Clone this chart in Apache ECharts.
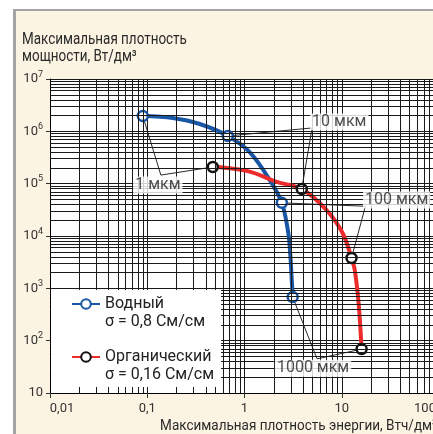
<!DOCTYPE html>
<html><head><meta charset="utf-8">
<script src="https://cdn.jsdelivr.net/npm/echarts@6/dist/echarts.min.js"></script>
<style>html,body{margin:0;padding:0;background:#fff}#c{width:433px;height:434px}</style>
</head><body><div id="c"></div>
<script>
const FONT = 'Roboto, "Liberation Sans", sans-serif';

// Curve traces: energy density (Втч/дм³) and power density (Вт/дм³)
const waterName = 'Водный';
const waterSub = 'σ = 0,8 См/см';
const waterCurveE = [0.183, 0.347, 1.13, 1.82, 2.79, 2.92];
const waterCurveP = [1.8e6, 1.38e6, 4.0e5, 1.17e5, 1.3e4, 6.2e3];
const waterMarkE = [0.09, 0.673, 2.42, 3.13];
const waterMarkP = [1.96e6, 8.15e5, 4.3e4, 680];

const orgName = 'Органический';
const orgSub = 'σ = 0,16 См/см';
const orgCurveE = [0.557, 1.13, 2.15, 7.01, 10.2, 13.6, 14.9];
const orgCurveP = [2.06e5, 1.7e5, 1.08e5, 3.1e4, 1.14e4, 2.24e3, 525];
const orgMarkE = [0.472, 3.88, 12.6, 16.0];
const orgMarkP = [2.08e5, 7.9e4, 3.8e3, 69];

// Electrode thickness annotations
const thicknessLabels = ['1 мкм', '10 мкм', '100 мкм', '1000 мкм'];
const leaderE = [0.138, 4.95, 17.5, 5.57];
const leaderP = [1.46e5, 1.16e6, 3.7e4, 45];
const labelE = [0.1285, 9.42, 36.7, 5.07];
const labelP = [9.4e4, 1.5e6, 4.85e4, 29.8];

// Axes
const xTickValues = [0.01, 0.1, 1, 10, 100];
const xTickLabels = ['{first|0,01}', '{n|0,1}', '{n|1}', '{n|10}', '{last|100}'];
const yTickValues = [10, 1e2, 1e3, 1e4, 1e5, 1e6, 1e7];
const yTickLabels = ['10', '10{s|2}', '10{s|3}', '10{s|4}', '10{s|5}', '10{s|6}', '10{s|7}'];
const yTitle = 'Максимальная плотность\nмощности, Вт/дм³';
const xTitle = 'Максимальная плотность энергии, Втч/дм³';

const BLUE = '#1a56a6';
const RED = '#ee2b2b';

function buildLine(cE, cP, mE, mP) {
  const pts = [];
  cE.forEach((e, i) => pts.push({ value: [e, cP[i]], symbol: 'none' }));
  mE.forEach((e, i) => pts.push({ value: [e, mP[i]] }));
  pts.sort((a, b) => b.value[1] - a.value[1]);
  return pts;
}
function tickIndex(vals, v) {
  const lv = Math.log10(v);
  return vals.findIndex(t => Math.abs(Math.log10(t) - lv) < 1e-3);
}
const minorY = [], minorX = [];
for (let d = 1; d < 7; d++) for (let m = 2; m <= 9; m++) minorY.push({ yAxis: m * Math.pow(10, d) });
for (let d = -2; d < 2; d++) for (let m = 2; m <= 9; m++) minorX.push({ xAxis: +(m * Math.pow(10, d)).toPrecision(3) });

const leaderSeries = thicknessLabels.map((t, i) => ({
  type: 'line', name: 'leader' + i, z: 2, silent: true, symbol: 'none',
  lineStyle: { color: '#111', width: 0.9 },
  data: [[waterMarkE[i], waterMarkP[i]], [leaderE[i], leaderP[i]], [orgMarkE[i], orgMarkP[i]]],
  animation: false
}));

const tickFont = { fontSize: 13, fontFamily: FONT, color: '#333' };
const chart = echarts.init(document.getElementById('c'), null, { renderer: 'canvas' });
chart.setOption({
  backgroundColor: '#fcf4e3',
  animation: false,
  grid: { left: 50, top: 79, right: -6, bottom: 41, show: true, backgroundColor: '#fff', borderWidth: 0,
          containLabel: false, outerBoundsMode: 'none' },
  xAxis: {
    type: 'log', logBase: 10, min: 0.01, max: 100,
    axisLine: { show: true, lineStyle: { color: '#000', width: 1 } },
    axisTick: { show: true, length: 5, lineStyle: { color: '#333' } },
    axisLabel: { margin: 9, color: '#333', fontSize: 13, fontFamily: FONT, hideOverlap: false,
      formatter: v => { const i = tickIndex(xTickValues, v); return i >= 0 ? xTickLabels[i] : ''; },
      rich: {
        n: tickFont,
        first: Object.assign({ padding: [0, 0, 0, 24] }, tickFont),
        last: Object.assign({ padding: [0, 28, 0, 0] }, tickFont)
      } },
    splitLine: { show: true, lineStyle: { color: '#1a1a1a', width: 1 } }
  },
  yAxis: {
    type: 'log', logBase: 10, min: 10, max: 1e7,
    axisLine: { show: true, lineStyle: { color: '#000', width: 1 } },
    axisTick: { show: true, length: 4, lineStyle: { color: '#333' } },
    axisLabel: { margin: 7, color: '#333', fontSize: 13, fontFamily: FONT,
      formatter: v => { const i = tickIndex(yTickValues, v); return i >= 0 ? yTickLabels[i] : ''; },
      rich: { s: { fontSize: 9, fontFamily: FONT, color: '#333', padding: [0, 0, 9, 0] } } },
    splitLine: { show: true, lineStyle: { color: '#1a1a1a', width: 1 } }
  },
  legend: {
    data: [waterName, orgName], z: 60,
    orient: 'vertical', left: 71, top: 277, padding: 0, itemGap: -1,
    itemWidth: 28, itemHeight: 12, selectedMode: false,
    formatter: n => '\n' + n + '\n' + (n === waterName ? waterSub : orgSub),
    textStyle: { fontSize: 16, lineHeight: 18, color: '#222', fontFamily: FONT }
  },
  graphic: [
    { type: 'rect', shape: { x: 0, y: 0, width: 433, height: 9 }, style: { fill: '#fff' }, z: 100, silent: true },
    { type: 'rect', shape: { x: 0, y: 0, width: 13, height: 434 }, style: { fill: '#fff' }, z: 100, silent: true },
    { type: 'rect', shape: { x: 13, y: 9, width: 420, height: 2 }, style: { fill: '#a4a4a4' }, z: 100, silent: true },
    { type: 'rect', shape: { x: 13, y: 9, width: 3, height: 425 }, style: { fill: '#a4a4a4' }, z: 100, silent: true },
    { type: 'rect', shape: { x: 51, y: 290, width: 170, height: 97 }, style: { fill: '#fff' }, z: 50, silent: true },
    { type: 'text', x: 22, y: 31, scaleX: 0.84, z: 100,
      style: { text: yTitle, fontSize: 16, lineHeight: 17.5, fill: '#2a2a2a', fontFamily: FONT } },
    { type: 'text', x: 437, y: 419, scaleX: 0.9, z: 100,
      style: { text: xTitle, fontSize: 15, fill: '#2a2a2a', fontFamily: FONT, align: 'right' } }
  ],
  series: [
    {
      type: 'line', name: 'grid', z: 1, silent: true, symbol: 'none', data: [[1, 1000]],
      lineStyle: { width: 0 },
      markLine: { silent: true, symbol: ['none', 'none'], label: { show: false },
        lineStyle: { color: '#1a1a1a', width: 1, type: 'solid' }, animation: false,
        data: minorY.concat(minorX) }
    },
    ...leaderSeries,
    {
      type: 'line', name: waterName, z: 4, smooth: 0.35, symbol: 'circle', symbolSize: 10, showSymbol: true,
      lineStyle: { color: BLUE, width: 4 },
      itemStyle: { color: '#fff', borderColor: BLUE, borderWidth: 2.5 },
      data: buildLine(waterCurveE, waterCurveP, waterMarkE, waterMarkP)
    },
    {
      type: 'line', name: orgName, z: 4, smooth: 0.35, symbol: 'circle', symbolSize: 10, showSymbol: true,
      lineStyle: { color: RED, width: 4 },
      itemStyle: { color: '#fff', borderColor: '#111', borderWidth: 2.5 },
      data: buildLine(orgCurveE, orgCurveP, orgMarkE, orgMarkP)
    },
    {
      type: 'scatter', name: 'labels', z: 6, silent: true, symbolSize: 1,
      itemStyle: { color: 'rgba(0,0,0,0)' },
      data: labelE.map((e, i) => [e, labelP[i]]),
      label: { show: true, position: 'inside', formatter: p => thicknessLabels[p.dataIndex],
        fontSize: 16, color: '#222', fontFamily: FONT, backgroundColor: '#fff', padding: [1, 2, 0, 2] }
    }
  ]
});
</script></body></html>
